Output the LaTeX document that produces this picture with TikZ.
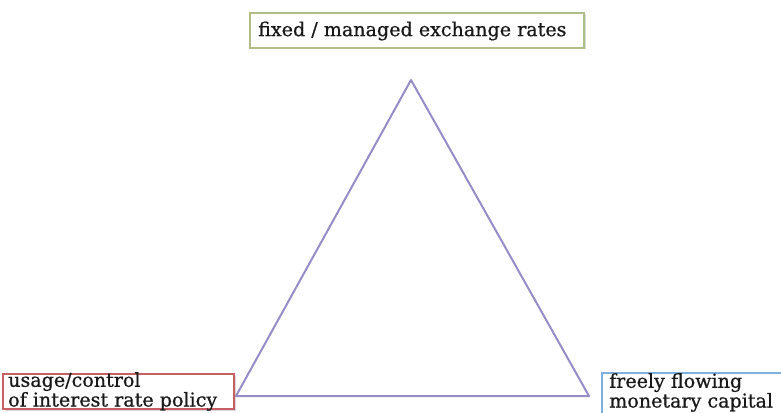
\documentclass[tikz,border=0pt]{standalone}
\usepackage{fontspec}
\setmainfont{DejaVu Serif}
\newfontfamily\slabfont[FakeBold=0.7]{DejaVu Serif}
\usetikzlibrary{shadows}
\definecolor{tri}{RGB}{150,140,200}
\definecolor{gbord}{RGB}{175,190,135}
\definecolor{rbord}{RGB}{200,95,100}
\definecolor{bbord}{RGB}{125,175,225}
\tikzset{
  lbl/.style={draw, line width=1.4pt, fill=white, inner sep=0pt, outer sep=0pt,
    drop shadow={shadow xshift=1.5pt, shadow yshift=-1.5pt, opacity=0.3}},
  txt/.style={anchor=west, inner sep=0pt, align=left, font=\slabfont\fontsize{19.1}{17}\selectfont, text=black!90},
}
\begin{document}
\begin{tikzpicture}[x=1pt,y=-1pt]
\useasboundingbox (0,0) rectangle (781,412);
% triangle
\coordinate (A) at (411,80);
\coordinate (B) at (236,396);
\coordinate (C) at (589,396);
\draw[tri, line width=2pt, line join=round] (A) -- (B) -- (C) -- cycle;
% boxes
\node[lbl, draw=gbord, minimum width=334pt, minimum height=35pt] (top) at (417,30.5) {};
\node[txt] (toptxt) at (258,31) {fixed / managed exchange rates};
\node[lbl, draw=rbord, minimum width=231pt, minimum height=35pt] (left) at (118.5,391.5) {};
\node[txt] (lefttxt) at (8,391.5) {usage/control\\of interest rate policy};
\node[lbl, draw=bbord, minimum width=200pt, minimum height=50pt] (right) at (702,398) {};
\node[txt] (righttxt) at (609,392.5) {freely flowing\\monetary capital};
\end{tikzpicture}
\end{document}
